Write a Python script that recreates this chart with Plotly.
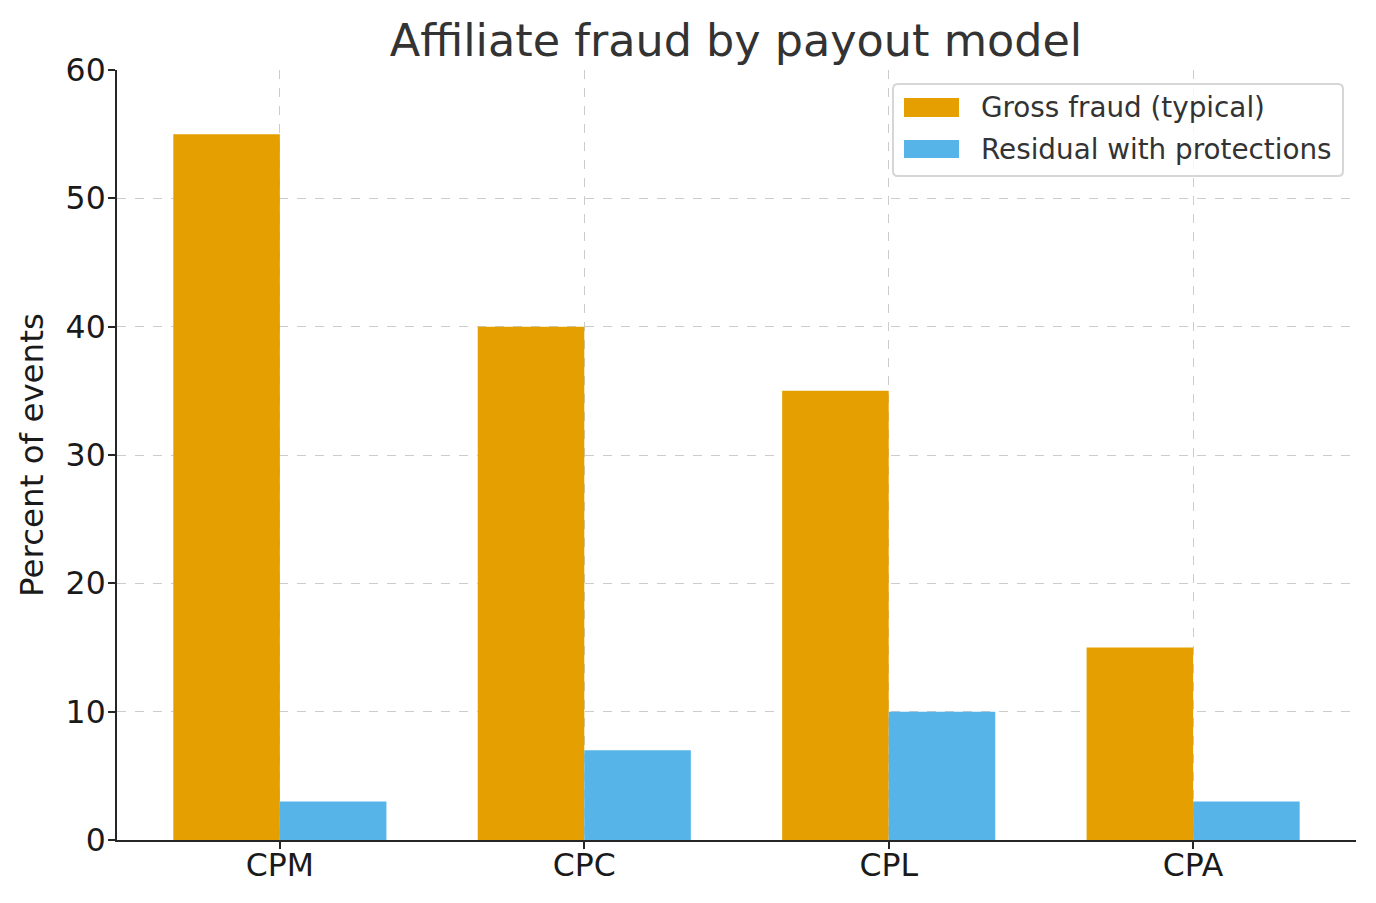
import plotly.graph_objects as go

categories = ["CPM", "CPC", "CPL", "CPA"]
gross = [55, 40, 35, 15]
residual = [3, 7, 10, 3]
series_names = ["Gross fraud (typical)", "Residual with protections"]
series_colors = ["#E69F00", "#56B4E9"]
y_ticks = [0, 10, 20, 30, 40, 50, 60]

FONT = "DejaVu Sans"
W, H = 1376, 903
ML, MR, MT, MB = 117, 20, 70, 63
PW, PH = W - ML - MR, H - MT - MB
xpos = list(range(len(categories)))


def px_x(p):
    return (p - ML) / PW


def px_y(p):
    return (H - MB - p) / PH


fig = go.Figure()
for name, vals, col in zip(series_names, [gross, residual], series_colors):
    fig.add_trace(go.Bar(x=xpos, y=vals, name=name, marker_color=col, marker_line_width=0))

# custom legend (matplotlib style: rounded frame, wide swatches)
x0, x1, y0, y1, r = 893, 1343, 84, 176, 5
path = (f"M {px_x(x0 + r)},{px_y(y0)} L {px_x(x1 - r)},{px_y(y0)} "
        f"Q {px_x(x1)},{px_y(y0)} {px_x(x1)},{px_y(y0 + r)} "
        f"L {px_x(x1)},{px_y(y1 - r)} Q {px_x(x1)},{px_y(y1)} {px_x(x1 - r)},{px_y(y1)} "
        f"L {px_x(x0 + r)},{px_y(y1)} Q {px_x(x0)},{px_y(y1)} {px_x(x0)},{px_y(y1 - r)} "
        f"L {px_x(x0)},{px_y(y0 + r)} Q {px_x(x0)},{px_y(y0)} {px_x(x0 + r)},{px_y(y0)} Z")
shapes = [dict(type="path", path=path, xref="paper", yref="paper",
               line=dict(color="#d6d6d6", width=2), fillcolor="rgba(255,255,255,0.8)", layer="above")]
annotations = []
rows = [(98, 117), (140, 158)]
for (ta, tb), name, col in zip(rows, series_names, series_colors):
    shapes.append(dict(type="rect", xref="paper", yref="paper",
                       x0=px_x(904), x1=px_x(959), y0=px_y(tb), y1=px_y(ta),
                       fillcolor=col, line=dict(width=0), layer="above"))
    annotations.append(dict(text=name, xref="paper", yref="paper", x=px_x(979),
                            y=px_y((ta + tb) / 2), xanchor="left", yanchor="middle",
                            showarrow=False, font=dict(size=27.8, color="#333333", family=FONT)))

fig.update_layout(
    width=W, height=H,
    margin=dict(l=ML, r=MR, t=MT, b=MB),
    paper_bgcolor="white", plot_bgcolor="white",
    barmode="group", bargap=0.3, bargroupgap=0,
    font=dict(family=FONT, color="#262626"),
    title=dict(text="Affiliate fraud by payout model", x=(736 / W), xanchor="center",
               y=1 - 40 / H, yanchor="middle", yref="container",
               font=dict(size=44.5, color="#333333", family=FONT)),
    showlegend=False,
    shapes=shapes,
    annotations=annotations,
)
fig.update_xaxes(
    range=[-0.535, 3.535], tickvals=xpos, ticktext=categories,
    showline=True, linecolor="#262626", linewidth=2,
    ticks="outside", ticklen=7, tickwidth=2, tickcolor="#262626",
    tickfont=dict(size=31.5, family=FONT, color="#1a1a1a"),
    ticklabelstandoff=-11,
    showgrid=True, gridcolor="#cccccc", griddash="dash", gridwidth=1,
    zeroline=False,
)
fig.update_yaxes(
    range=[0, 60], tickvals=y_ticks,
    showline=True, linecolor="#262626", linewidth=2,
    ticks="outside", ticklen=7, tickwidth=2, tickcolor="#262626",
    tickfont=dict(size=31.5, family=FONT, color="#1a1a1a"),
    ticklabelstandoff=-4,
    showgrid=True, gridcolor="#cccccc", griddash="dash", gridwidth=1,
    zeroline=False,
    title=dict(text="Percent of events", font=dict(size=32.5, family=FONT, color="#1a1a1a"), standoff=12),
)

fig.write_html("out.html")
